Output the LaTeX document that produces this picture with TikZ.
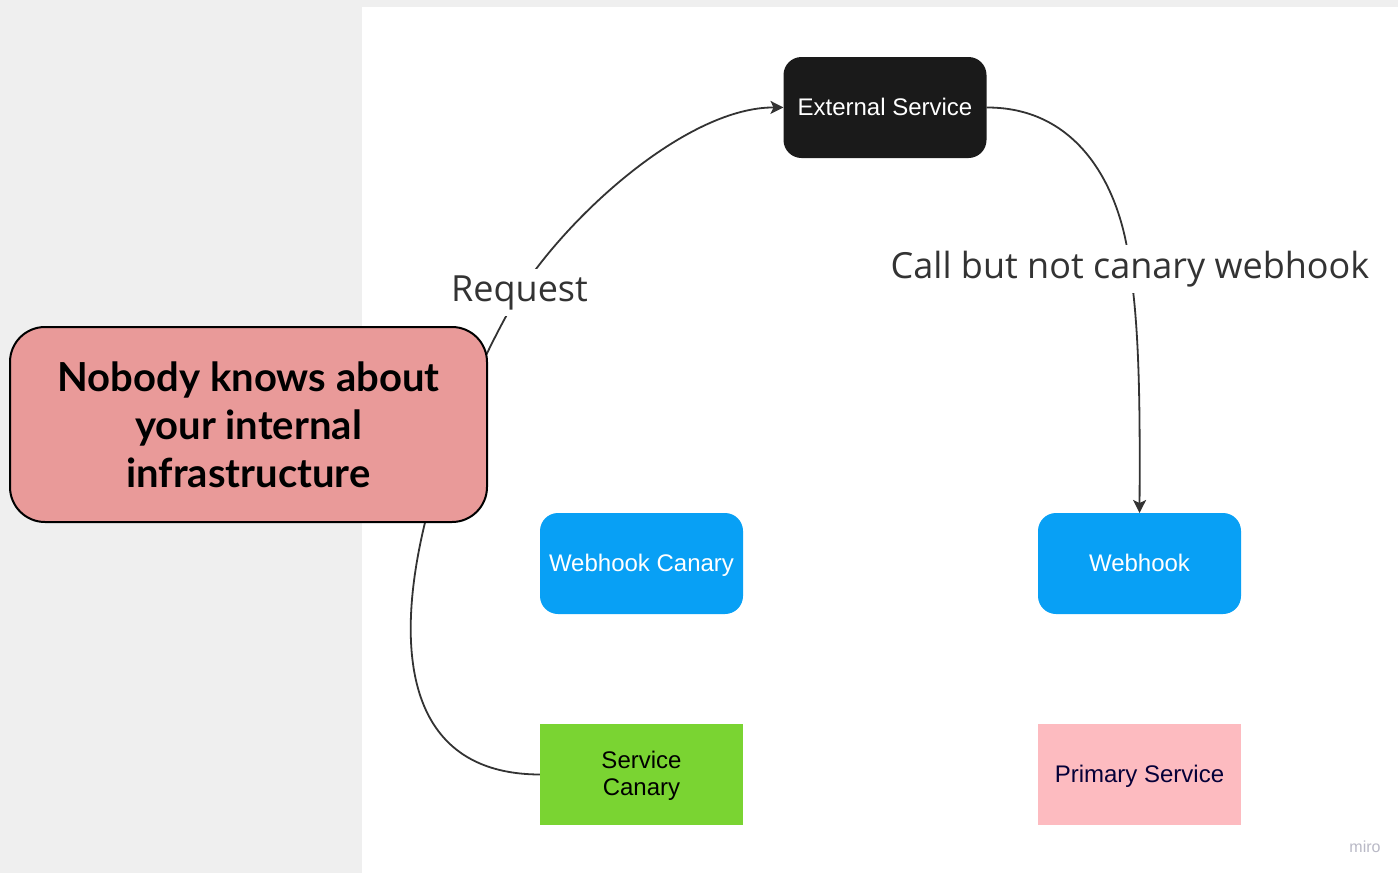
\documentclass[tikz,border=0pt]{standalone}
\usepackage{fontspec}
\setmainfont{Liberation Sans}
\newfontfamily\labelfont{Open Sans}
\newfontfamily\calloutfont{Lato}
\usetikzlibrary{arrows.meta}

\pgfdeclarelayer{canvas}
\pgfdeclarelayer{links}
\pgfsetlayers{canvas,links,main}

\definecolor{boardgray}{RGB}{239,239,239}
\definecolor{extblack}{RGB}{26,26,26}
\definecolor{hookblue}{RGB}{8,160,245}
\definecolor{canarygreen}{RGB}{122,212,50}
\definecolor{primarypink}{RGB}{253,187,192}
\definecolor{primarytext}{RGB}{5,0,56}
\definecolor{calloutred}{RGB}{233,154,153}
\definecolor{linegray}{RGB}{51,51,51}
\definecolor{mirogray}{RGB}{185,185,198}

\begin{document}
\begin{tikzpicture}[x=1pt,y=-1pt,
  card/.style={minimum width=203pt, minimum height=101pt, inner sep=0pt, outer sep=0pt,
    align=center, font=\fontsize{24}{27}\selectfont},
  oneline/.style={text height=19pt, text depth=4pt},
  roundcard/.style={card, oneline, rounded corners=18pt},
  edgelabel/.style={font=\labelfont\fontsize{36}{40}\selectfont, text=linegray,
    fill=white, inner xsep=2pt, inner ysep=6pt},
  link/.style={draw=linegray, line width=1.8pt},
  arrowlink/.style={link, -{Stealth[length=13pt,width=13pt,inset=3pt]}},
  callout/.style={draw=black, line width=2pt, fill=calloutred, rounded corners=35pt,
    minimum width=477pt, minimum height=195pt, inner sep=0pt, align=center,
    font=\calloutfont\bfseries\fontsize{40}{48}\selectfont}
]
\begin{pgfonlayer}{canvas}
  \fill[boardgray] (0,0) rectangle (1398,873);
  \fill[white] (362,7) rectangle (1398,873);
\end{pgfonlayer}
\useasboundingbox (0,0) rectangle (1398,873);

% services
\node[roundcard, fill=extblack, text=white] (ext) at (885,107.5) {External Service};
\node[roundcard, fill=hookblue, text=white] (wc) at (641.5,563.5) {Webhook Canary};
\node[roundcard, fill=hookblue, text=white] (wh) at (1139.5,563.5) {Webhook};
\node[card, fill=canarygreen, text=black] (sc) at (641.5,774.5) {\rule{0pt}{20pt}Service\\Canary};
\node[card, oneline, fill=primarypink, text=primarytext] (ps) at (1139.5,774.5) {Primary Service};

% connector labels
\node[edgelabel, anchor=base] (rq) at (519.5,301) {Request};
\node[edgelabel, anchor=base] (cb) at (1130,278) {Call but not canary webhook};

% connectors
\begin{pgfonlayer}{links}
  \draw[arrowlink] (sc.west) .. controls (327,774) and (419,463) .. (rq.center)
    .. controls (573,210) and (690,107) .. (ext.west);
  \draw[arrowlink] (ext.east) .. controls (1080,107) and (1122,190) .. (cb.center)
    .. controls (1140,330) and (1140,420) .. (wh.north);
\end{pgfonlayer}

% note laid over the board
\node[callout] (note) at (248.5,424.5) {Nobody knows about\\your internal\\infrastructure};

% board watermark
\node[font=\fontsize{16}{16}\selectfont, text=mirogray] (logo) at (1365,847) {miro};
\end{tikzpicture}
\end{document}
